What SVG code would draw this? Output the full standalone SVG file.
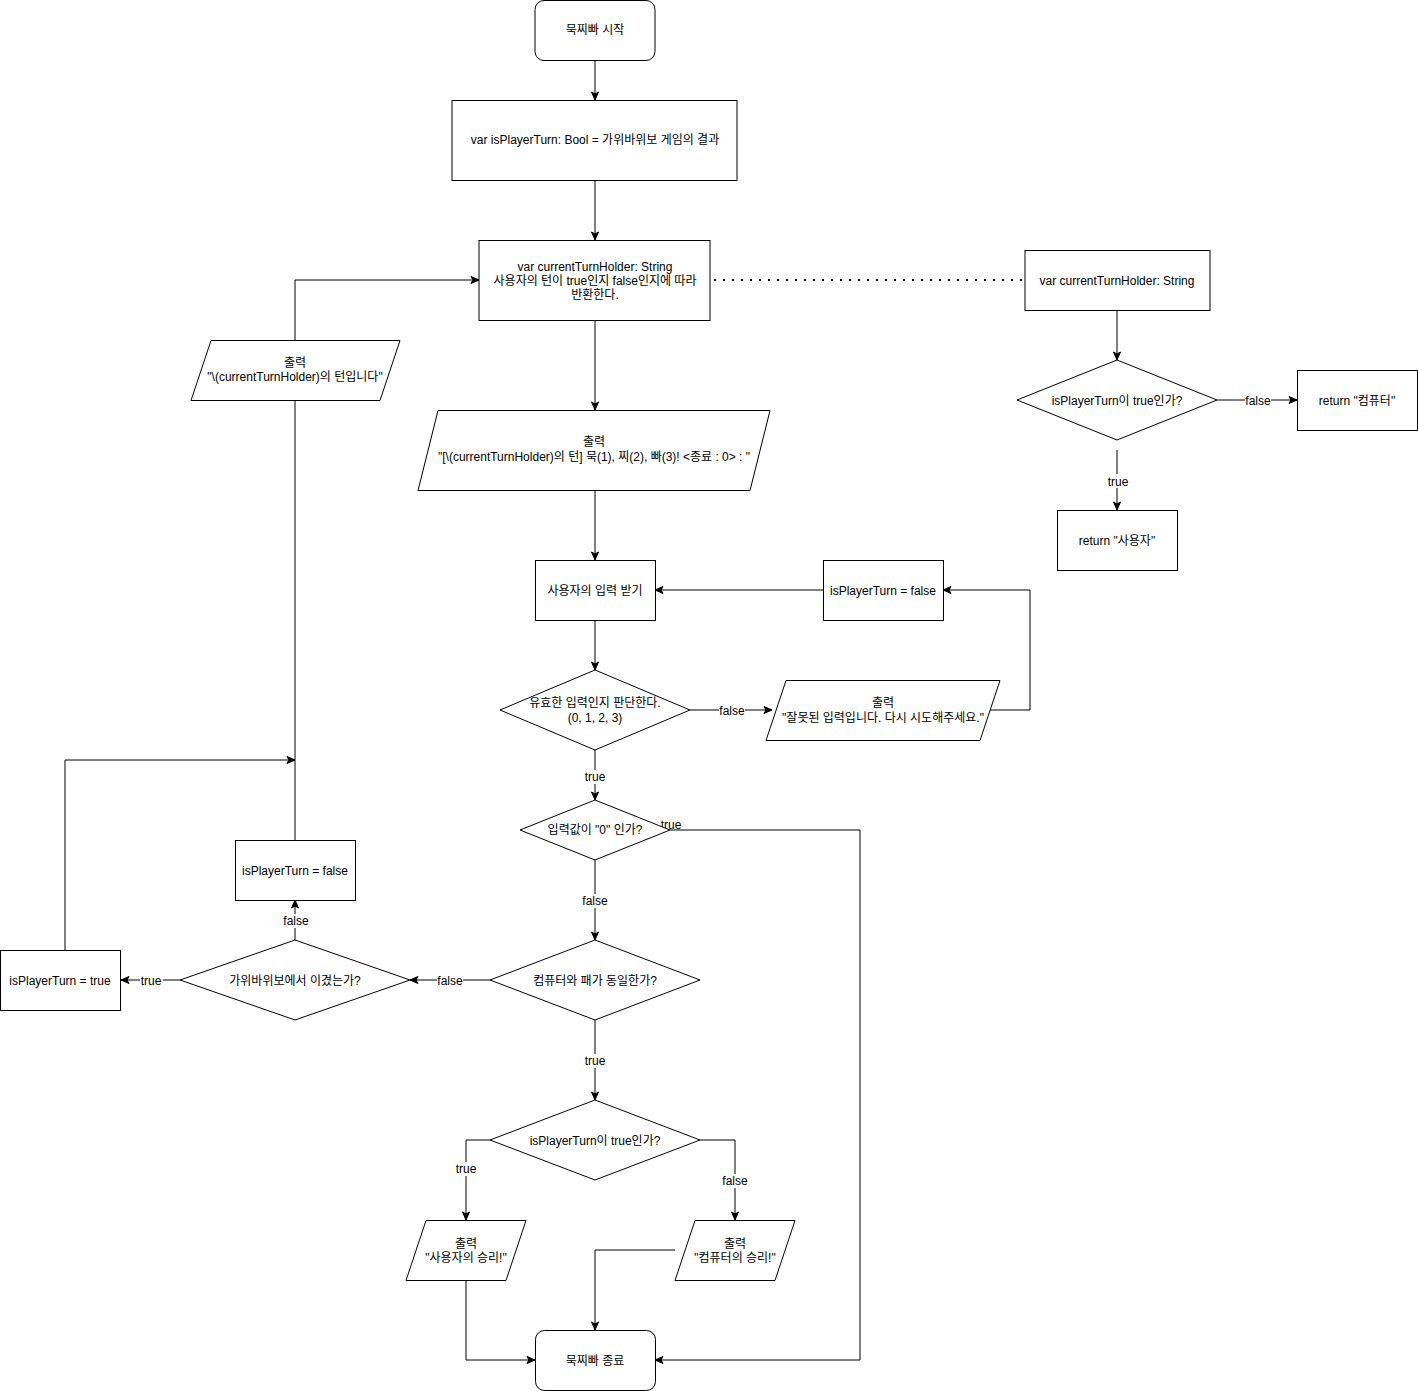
<svg xmlns="http://www.w3.org/2000/svg" width="1418" height="1391" viewBox="0 0 1418 1391">
<style>
.n{fill:#fff;stroke:#000;stroke-width:1}
.t{font-family:"Liberation Sans","Noto Sans CJK KR",sans-serif;font-size:12px;fill:#000;text-anchor:middle}
.e{fill:none;stroke:#000;stroke-width:1}
.lb{fill:#fff}
</style>
<defs>
<marker id="a" viewBox="0 0 10 10" refX="9" refY="5" markerWidth="10" markerHeight="10" markerUnits="userSpaceOnUse" orient="auto">
<path d="M1,1.5 L9,5 L1,8.5 L3,5 Z" fill="#000" stroke="#000" stroke-width="1"/>
</marker>
</defs>
<rect width="1418" height="1391" fill="#fff"/>
<g id="connectors">
<path class="e" d="M595,60 V100" marker-end="url(#a)"/>
<path class="e" d="M595,180 V240" marker-end="url(#a)"/>
<path d="M714,280 H1025" fill="none" stroke="#000" stroke-dasharray="2,7" stroke-width="2"/>
<path class="e" d="M1117,310 V360" marker-end="url(#a)"/>
<path class="e" d="M1217,400 H1297" marker-end="url(#a)"/>
<path class="e" d="M1117,450 V510" marker-end="url(#a)"/>
<path class="e" d="M595,320 V410" marker-end="url(#a)"/>
<path class="e" d="M595,490 V560" marker-end="url(#a)"/>
<path class="e" d="M823,590 H655" marker-end="url(#a)"/>
<path class="e" d="M595,620 V670" marker-end="url(#a)"/>
<path class="e" d="M690,710 H772" marker-end="url(#a)"/>
<path class="e" d="M980,710 H1030 V590 H943" marker-end="url(#a)"/>
<path class="e" d="M595,750 V800" marker-end="url(#a)"/>
<path class="e" d="M670,830 H860 V1360 H655" marker-end="url(#a)"/>
<path class="e" d="M595,860 V940" marker-end="url(#a)"/>
<path class="e" d="M490,980 H410" marker-end="url(#a)"/>
<path class="e" d="M180,980 H121" marker-end="url(#a)"/>
<path class="e" d="M65,950 V760 H295" marker-end="url(#a)"/>
<path class="e" d="M295,940 V900" marker-end="url(#a)"/>
<path class="e" d="M295,840 V400"/>
<path class="e" d="M295,340 V280 H479" marker-end="url(#a)"/>
<path class="e" d="M595,1020 V1100" marker-end="url(#a)"/>
<path class="e" d="M490,1140 H466 V1220" marker-end="url(#a)"/>
<path class="e" d="M700,1140 H735 V1220" marker-end="url(#a)"/>
<path class="e" d="M466,1280 V1360 H535" marker-end="url(#a)"/>
<path class="e" d="M675,1250 H595 V1330" marker-end="url(#a)"/>
<rect class="lb" x="1245" y="394" width="26" height="14"/><text class="t" x="1258" y="405">false</text>
<rect class="lb" x="1106" y="474" width="24" height="14"/><text class="t" x="1118" y="486">true</text>
<rect class="lb" x="719" y="704" width="26" height="14"/><text class="t" x="732" y="715">false</text>
<rect class="lb" x="583" y="770" width="24" height="14"/><text class="t" x="595" y="781">true</text>
<rect class="lb" x="661" y="818" width="20" height="10"/><text class="t" x="671" y="829">true</text>
<rect class="lb" x="582" y="894" width="26" height="14"/><text class="t" x="595" y="905">false</text>
<rect class="lb" x="437" y="974" width="26" height="14"/><text class="t" x="450" y="985">false</text>
<rect class="lb" x="140" y="974" width="23" height="14"/><text class="t" x="151" y="985">true</text>
<rect class="lb" x="283" y="914" width="26" height="14"/><text class="t" x="296" y="925">false</text>
<rect class="lb" x="583" y="1054" width="24" height="14"/><text class="t" x="595" y="1065">true</text>
<rect class="lb" x="454" y="1162" width="24" height="14"/><text class="t" x="466" y="1173">true</text>
<rect class="lb" x="722" y="1174" width="26" height="14"/><text class="t" x="735" y="1185">false</text>
</g>
<g id="start"><rect class="n" x="535" y="0.5" width="120" height="60" rx="9"/><text class="t" x="595" y="34">묵찌빠 시작</text></g>
<g id="initTurn"><rect class="n" x="452" y="100.5" width="285" height="80"/><text class="t" x="595" y="144">var isPlayerTurn: Bool = 가위바위보 게임의 결과</text></g>
<g id="holder"><rect class="n" x="479" y="240.5" width="231" height="80"/><text class="t" x="595" y="271">var currentTurnHolder: String</text><text class="t" x="595" y="285">사용자의 턴이 true인지 false인지에 따라</text><text class="t" x="595" y="299">반환한다.</text></g>
<g id="holderDef"><rect class="n" x="1025" y="250.5" width="185" height="60"/><text class="t" x="1117" y="285">var currentTurnHolder: String</text></g>
<g id="defDecision"><path class="n" d="M1117,360 L1217,400 L1117,440 L1017,400 Z"/><text class="t" x="1117" y="405">isPlayerTurn이 true인가?</text></g>
<g id="retComputer"><rect class="n" x="1297.5" y="370.5" width="120" height="60"/><text class="t" x="1357" y="405">return "컴퓨터"</text></g>
<g id="retUser"><rect class="n" x="1057.5" y="510.5" width="120" height="60"/><text class="t" x="1117" y="545">return "사용자"</text></g>
<g id="printPrompt"><path class="n" d="M438,410.5 L770,410.5 L750,490.5 L418,490.5 Z"/><text class="t" x="594" y="446">출력</text><text class="t" x="594" y="461">"[\(currentTurnHolder)의 턴] 묵(1), 찌(2), 빠(3)! &lt;종료 : 0&gt; : "</text></g>
<g id="input"><rect class="n" x="535.5" y="560.5" width="120" height="60"/><text class="t" x="595" y="595">사용자의 입력 받기</text></g>
<g id="setFalse1"><rect class="n" x="823.5" y="560.5" width="120" height="60"/><text class="t" x="883" y="595">isPlayerTurn = false</text></g>
<g id="validCheck"><path class="n" d="M595,670 L690,710 L595,750 L500,710 Z"/><text class="t" x="595" y="707">유효한 입력인지 판단한다.</text><text class="t" x="595" y="722">(0, 1, 2, 3)</text></g>
<g id="printInvalid"><path class="n" d="M786,680.5 L1000,680.5 L980,740.5 L766,740.5 Z"/><text class="t" x="883" y="707">출력</text><text class="t" x="883" y="722">"잘못된 입력입니다. 다시 시도해주세요."</text></g>
<g id="zeroCheck"><path class="n" d="M595,800 L670,830 L595,860 L520,830 Z"/><text class="t" x="595" y="834">입력값이 "0" 인가?</text></g>
<g id="sameCheck"><path class="n" d="M595,940 L700,980 L595,1020 L490,980 Z"/><text class="t" x="595" y="985">컴퓨터와 패가 동일한가?</text></g>
<g id="rpsCheck"><path class="n" d="M295,940 L410,980 L295,1020 L180,980 Z"/><text class="t" x="295" y="985">가위바위보에서 이겼는가?</text></g>
<g id="setTrue"><rect class="n" x="0.5" y="950.5" width="120" height="60"/><text class="t" x="60" y="985">isPlayerTurn = true</text></g>
<g id="setFalse2"><rect class="n" x="235.5" y="840.5" width="120" height="60"/><text class="t" x="295" y="875">isPlayerTurn = false</text></g>
<g id="printTurn"><path class="n" d="M211,340.5 L400,340.5 L380,400.5 L191,400.5 Z"/><text class="t" x="295" y="367">출력</text><text class="t" x="295" y="381">"\(currentTurnHolder)의 턴입니다"</text></g>
<g id="turnCheck"><path class="n" d="M595,1100 L700,1140 L595,1180 L490,1140 Z"/><text class="t" x="595" y="1145">isPlayerTurn이 true인가?</text></g>
<g id="userWin"><path class="n" d="M426,1220.5 L526,1220.5 L506,1280.5 L406,1280.5 Z"/><text class="t" x="466" y="1248">출력</text><text class="t" x="466" y="1262">"사용자의 승리!"</text></g>
<g id="compWin"><path class="n" d="M695,1220.5 L795,1220.5 L775,1280.5 L675,1280.5 Z"/><text class="t" x="735" y="1248">출력</text><text class="t" x="735" y="1262">"컴퓨터의 승리!"</text></g>
<g id="end"><rect class="n" x="535.5" y="1330.5" width="120" height="60" rx="9"/><text class="t" x="595" y="1365">묵찌빠 종료</text></g>
</svg>
